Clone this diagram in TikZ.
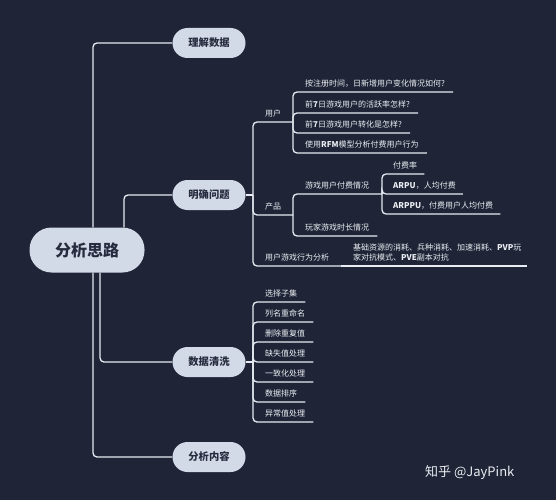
\documentclass[tikz,border=0pt]{standalone}
\usepackage{fontspec}
\setmainfont{Noto Sans CJK SC}
\newfontfamily\wmfont{Noto Sans CJK SC}
\usetikzlibrary{calc}
\definecolor{bgc}{RGB}{31,37,55}
\definecolor{nodefill}{RGB}{210,218,232}
\definecolor{nodetext}{RGB}{38,44,62}
\definecolor{linec}{RGB}{232,235,241}
\definecolor{itemtext}{RGB}{236,238,243}
\tikzset{
  conn/.style={draw=linec, line width=1.3pt, rounded corners=4pt},
  rootbox/.style={fill=nodefill, text=nodetext, rounded corners=22pt, minimum width=115pt, minimum height=45pt, inner sep=0pt, font=\fontsize{16}{18}\selectfont\bfseries},
  topicbox/.style={fill=nodefill, text=nodetext, rounded corners=15pt, minimum width=73pt, minimum height=30pt, inner sep=0pt, font=\fontsize{10.3}{12}\selectfont\bfseries},
  item/.style={anchor=south west, inner xsep=0pt, inner ysep=4pt, text depth=1pt, text=itemtext, font=\fontsize{8}{10}\selectfont},
}
\begin{document}
\begin{tikzpicture}[x=1pt,y=-1pt]
\fill[bgc] (0,0) rectangle (556,500);
\useasboundingbox (0,0) rectangle (556,500);

% root and main topics
\node[rootbox] (root) at (87,250) {分析思路};
\node[topicbox] (t1) at (209,43) {理解数据};
\node[topicbox] (t2) at (209,195) {明确问题};
\node[topicbox] (t3) at (209,362) {数据清洗};
\node[topicbox] (t4) at (209,457) {分析内容};

\coordinate (r1) at ($(root.north)+(6,0)$);
\coordinate (r2) at ($(root.north)+(37,0)$);
\coordinate (r3) at ($(root.south)+(6,0)$);
\coordinate (r4) at ($(root.south)+(13,0)$);
\draw[conn] (r1) |- (t1.west);
\draw[conn] (r2) |- (t2.west);
\draw[conn] (r3) |- (t4.west);
\draw[conn] (r4) |- (t3.west);

% ---- 明确问题 ----
\coordinate (J2) at (253,195);
\draw[conn] (t2.east) -- (J2);
\node[item] (u) at (265,122) {用户};
\node[item] (p) at (265,215) {产品};
\node[item] (g) at (265,266) {用户游戏行为分析};
\coordinate (Ju) at (293,122);
\coordinate (Jp) at (293,215);
\coordinate (Jg) at (341,266);
\draw[conn] (J2) |- (Ju);
\draw[conn] (J2) |- (Jp);
\draw[conn] (J2) |- (Jg);

\node[item] (u1) at (305,92) {按注册时间，日新增用户变化情况如何?};
\node[item] (u2) at (305,113) {前\textbf{7}日游戏用户的活跃率怎样?};
\node[item] (u3) at (305,133) {前\textbf{7}日游戏用户转化是怎样?};
\node[item] (u4) at (305,153) {使用\textbf{RFM}模型分析付费用户行为};
\draw[conn] (Ju) |- ($(u1.south east)+(8,0)$);
\draw[conn] (Ju) |- ($(u2.south east)+(8,0)$);
\draw[conn] (Ju) |- ($(u3.south east)+(8,0)$);
\draw[conn] (Ju) |- ($(u4.south east)+(8,0)$);

\node[item] (p1) at (305,194) {游戏用户付费情况};
\node[item] (p2) at (305,236) {玩家游戏时长情况};
\coordinate (Jp1) at (382,194);
\draw[conn] (Jp) |- (Jp1);
\draw[conn] (Jp) |- ($(p2.south east)+(8,0)$);

\node[item] (f1) at (393,174) {付费率};
\node[item] (f2) at (393,194) {\textbf{ARPU}，人均付费};
\node[item] (f3) at (393,214) {\textbf{ARPPU}，付费用户人均付费};
\draw[conn] (Jp1) |- ($(f1.south east)+(7,0)$);
\draw[conn] (Jp1) |- ($(f2.south east)+(7,0)$);
\draw[conn] (Jp1) |- ($(f3.south east)+(7,0)$);

\node[item, align=left] (g1) at (353,266) {基础资源的消耗、兵种消耗、加速消耗、\textbf{PVP}玩\\家对抗模式、\textbf{PVE}副本对抗};
\draw[conn] (Jg) -- ($(g1.south east)+(5,0)$);

% ---- 数据清洗 ----
\coordinate (J3) at (253,362);
\draw[conn] (t3.east) -- (J3);
\node[item] (c1) at (265,302) {选择子集};
\node[item] (c2) at (265,322) {列名重命名};
\node[item] (c3) at (265,342) {删除重复值};
\node[item] (c4) at (265,362) {缺失值处理};
\node[item] (c5) at (265,382) {一致化处理};
\node[item] (c6) at (265,402) {数据排序};
\node[item] (c7) at (265,422) {异常值处理};
\foreach \n in {c1,c2,c3,c4,c5,c6,c7}{
  \draw[conn] (J3) |- ($(\n.south east)+(8,0)$);
}

% watermark
\node[anchor=west, inner sep=0pt, text=itemtext, font=\wmfont\fontsize{13}{15}\selectfont] (wm) at (425,473) {知乎 @JayPink};
\end{tikzpicture}
\end{document}
